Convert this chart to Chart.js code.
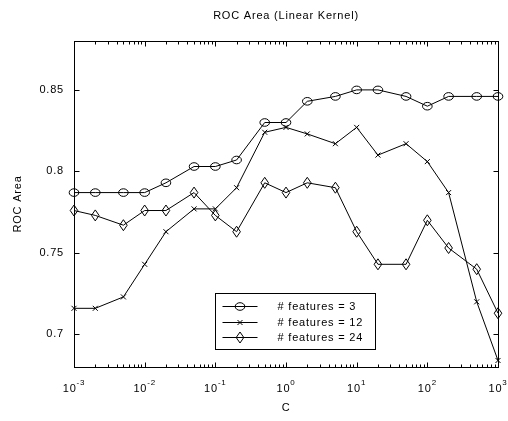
<!DOCTYPE html>
<html lang="en">
<head>
    <meta charset="UTF-8">
    <title>ROC Area (Linear Kernel)</title>
    <script src="https://cdn.jsdelivr.net/npm/chart.js"></script>
    <style>
        body { margin: 0; background: #fff; }
    </style>
</head>
<body>
    <canvas id="rocChart" width="508" height="421"></canvas>
    <script>
        // values of C (log axis)
        var cValues = [0.001, 0.002, 0.005, 0.01, 0.02, 0.05, 0.1, 0.2, 0.5, 1, 2, 5, 10, 20, 50, 100, 200, 500, 1000];

        // ROC area per number of features
        var features3 = [0.787, 0.787, 0.787, 0.787, 0.793, 0.803, 0.803, 0.807, 0.830, 0.830, 0.843, 0.846, 0.850, 0.850, 0.846, 0.840, 0.846, 0.846, 0.846];
        var features12 = [0.716, 0.716, 0.723, 0.743, 0.763, 0.777, 0.777, 0.790, 0.824, 0.827, 0.823, 0.817, 0.827, 0.810, 0.817, 0.806, 0.787, 0.720, 0.684];
        var features24 = [0.776, 0.773, 0.767, 0.776, 0.776, 0.787, 0.773, 0.763, 0.793, 0.787, 0.793, 0.790, 0.763, 0.743, 0.743, 0.770, 0.753, 0.740, 0.713];

        var seriesLabels = ['# features = 3', '# features = 12', '# features = 24'];
        var seriesMarkers = ['ellipse', 'x', 'diamond'];
        var xTickExponents = [-3, -2, -1, 0, 1, 2, 3];
        var yTickValues = [0.7, 0.75, 0.8, 0.85];

        var FONT = "'Liberation Sans', Arial, sans-serif";
        var SPACING = '0.8px';

        // open matlab-style markers: flat ellipse, small x, tall diamond
        function drawMarker(ctx, kind, x, y) {
            ctx.beginPath();
            if (kind === 'ellipse') {
                ctx.ellipse(x, y, 4.8, 3.8, 0, 0, Math.PI * 2);
            } else if (kind === 'diamond') {
                ctx.moveTo(x, y - 5.5); ctx.lineTo(x + 3.8, y);
                ctx.lineTo(x, y + 5.5); ctx.lineTo(x - 3.8, y);
                ctx.closePath();
            } else {
                ctx.moveTo(x - 2.5, y - 2.5); ctx.lineTo(x + 2.5, y + 2.5);
                ctx.moveTo(x + 2.5, y - 2.5); ctx.lineTo(x - 2.5, y + 2.5);
            }
            ctx.stroke();
        }

        function toPoints(values) {
            return values.map(function (v, i) { return { x: cValues[i], y: v }; });
        }

        function makeDataset(label, values) {
            return {
                label: label,
                data: toPoints(values),
                borderColor: '#000',
                borderWidth: 1,
                tension: 0,
                fill: false,
                clip: false,
                pointRadius: 0
            };
        }

        var spacedText = {
            id: 'spacedText',
            beforeLayout: function (chart) { chart.ctx.letterSpacing = SPACING; },
            beforeDraw: function (chart) { chart.ctx.letterSpacing = SPACING; }
        };

        var markers = {
            id: 'markers',
            afterDatasetsDraw: function (chart) {
                var ctx = chart.ctx;
                ctx.save();
                ctx.strokeStyle = '#000';
                ctx.lineWidth = 1;
                chart.data.datasets.forEach(function (ds, i) {
                    chart.getDatasetMeta(i).data.forEach(function (pt) {
                        drawMarker(ctx, seriesMarkers[i], pt.x, pt.y);
                    });
                });
                ctx.restore();
            }
        };

        // axes box, inward ticks, superscript tick labels and boxed legend
        var matlabAxes = {
            id: 'matlabAxes',
            afterDraw: function (chart) {
                var ctx = chart.ctx;
                var area = chart.chartArea;
                var xs = chart.scales.x;
                var ys = chart.scales.y;
                var L = Math.round(area.left) + 0.5, R = Math.round(area.right) + 0.5;
                var T = Math.round(area.top) + 0.5, B = Math.round(area.bottom) + 0.5;

                ctx.save();
                ctx.strokeStyle = '#000';
                ctx.lineWidth = 1;
                ctx.strokeRect(L, T, R - L, B - T);

                ctx.beginPath();
                xTickExponents.forEach(function (e) {
                    for (var m = 1; m <= 9; m++) {
                        var v = m * Math.pow(10, e);
                        if (v > 1000.0001) break;
                        var px = Math.round(xs.getPixelForValue(v)) + 0.5;
                        var len = m === 1 ? 5 : 3;
                        ctx.moveTo(px, B); ctx.lineTo(px, B - len);
                        ctx.moveTo(px, T); ctx.lineTo(px, T + len);
                    }
                });
                yTickValues.forEach(function (v) {
                    var py = Math.round(ys.getPixelForValue(v)) + 0.5;
                    ctx.moveTo(L, py); ctx.lineTo(L + 5, py);
                    ctx.moveTo(R, py); ctx.lineTo(R - 5, py);
                });
                ctx.stroke();

                // x tick labels as 10^n
                ctx.fillStyle = '#000';
                ctx.textBaseline = 'middle';
                ctx.textAlign = 'left';
                xTickExponents.forEach(function (e) {
                    var px = xs.getPixelForValue(Math.pow(10, e));
                    ctx.font = '11px ' + FONT;
                    var wBase = ctx.measureText('10').width;
                    ctx.font = '8px ' + FONT;
                    var expText = e < 0 ? '-' + Math.abs(e) : String(e);
                    var wExp = ctx.measureText(expText).width;
                    var x0 = px - (wBase + wExp) / 2;
                    ctx.font = '11px ' + FONT;
                    ctx.fillText('10', x0, B + 21);
                    ctx.font = '8px ' + FONT;
                    ctx.fillText(expText, x0 + wBase, B + 15);
                });

                // legend
                var lx = L + 141, ly = B - 74, lw = 160, lh = 56;
                ctx.fillStyle = '#fff';
                ctx.fillRect(lx, ly, lw, lh);
                ctx.strokeRect(lx, ly, lw, lh);
                ctx.font = '11px ' + FONT;
                ctx.fillStyle = '#000';
                chart.data.datasets.forEach(function (ds, i) {
                    var rowY = Math.round(ly + 12.5 + i * 15.7) + 0.5;
                    ctx.beginPath();
                    ctx.moveTo(lx + 7, rowY);
                    ctx.lineTo(lx + 42, rowY);
                    ctx.stroke();
                    drawMarker(ctx, seriesMarkers[i], lx + 24.5, rowY);
                    ctx.fillText(ds.label, lx + 62, rowY);
                });
                ctx.restore();
            }
        };

        var ctx = document.getElementById('rocChart').getContext('2d');
        var rocChart = new Chart(ctx, {
            type: 'line',
            data: {
                datasets: [
                    makeDataset(seriesLabels[0], features3),
                    makeDataset(seriesLabels[1], features12),
                    makeDataset(seriesLabels[2], features24)
                ]
            },
            options: {
                responsive: false,
                animation: false,
                events: [],
                layout: { padding: { left: 0, right: 10, top: 0, bottom: 0 } },
                plugins: {
                    legend: { display: false },
                    tooltip: { enabled: false },
                    title: {
                        display: true,
                        fullSize: false,
                        text: 'ROC Area (Linear Kernel)',
                        color: '#000',
                        font: { family: FONT, size: 11, weight: 'normal' },
                        padding: { top: 9, bottom: 18.8 }
                    }
                },
                scales: {
                    x: {
                        type: 'logarithmic',
                        min: 0.001,
                        max: 1000,
                        grid: { display: false, drawTicks: false },
                        border: { display: false },
                        ticks: { display: false },
                        title: {
                            display: true,
                            text: 'C',
                            color: '#000',
                            font: { family: FONT, size: 11 },
                            padding: { top: 0, bottom: 6 }
                        },
                        afterFit: function (scale) { scale.height = 54; }
                    },
                    y: {
                        min: 0.68,
                        max: 0.88,
                        grid: { display: false, drawTicks: false },
                        border: { display: false },
                        afterBuildTicks: function (scale) {
                            scale.ticks = yTickValues.map(function (v) { return { value: v }; });
                        },
                        ticks: {
                            color: '#000',
                            padding: 10,
                            font: { family: FONT, size: 11 },
                            callback: function (v) { return String(+v.toFixed(2)); }
                        },
                        title: {
                            display: true,
                            text: 'ROC Area',
                            color: '#000',
                            font: { family: FONT, size: 11 },
                            padding: { top: 11, bottom: 0 }
                        },
                        afterFit: function (scale) { scale.width = 74; }
                    }
                }
            },
            plugins: [spacedText, markers, matlabAxes]
        });
    </script>
</body>
</html>
